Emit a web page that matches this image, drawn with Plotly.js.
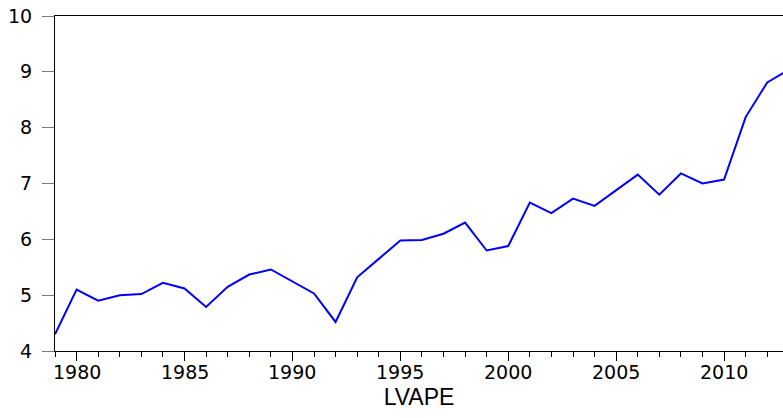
<!DOCTYPE html>
<html>
<head>
<meta charset="utf-8">
<script src="https://cdn.plot.ly/plotly-3.0.1.min.js"></script>
<style>
  html, body { margin: 0; padding: 0; background: #fff; }
  #chart { width: 783px; height: 418px; }
</style>
</head>
<body>
<div id="chart"></div>
<script>
// Annual series LVAPE, 1979-2013
const years = [1979, 1980, 1981, 1982, 1983, 1984, 1985, 1986, 1987, 1988,
               1989, 1990, 1991, 1992, 1993, 1994, 1995, 1996, 1997, 1998,
               1999, 2000, 2001, 2002, 2003, 2004, 2005, 2006, 2007, 2008,
               2009, 2010, 2011, 2012, 2013];
const lvape = [4.30, 5.10, 4.90, 5.00, 5.02, 5.22, 5.12, 4.79, 5.15, 5.37,
               5.46, 5.25, 5.03, 4.52, 5.32, 5.65, 5.98, 5.99, 6.10, 6.30,
               5.80, 5.88, 6.66, 6.47, 6.73, 6.60, 6.88, 7.16, 6.80, 7.18,
               7.00, 7.07, 8.19, 8.81, 9.04];
const seriesName = 'LVAPE';
const yTicks = [4, 5, 6, 7, 8, 9, 10];
const xTicks = [1980, 1985, 1990, 1995, 2000, 2005, 2010];

const tickFont = { family: 'DejaVu Sans, Arial, sans-serif', size: 19, color: '#000' };

const trace = {
  x: years,
  y: lvape,
  type: 'scatter',
  mode: 'lines',
  line: { color: '#0000ff', width: 2 },
  hoverinfo: 'x+y'
};

// Year labels placed on the x scale, set a little closer to the axis than the default spacing
const yearLabels = xTicks.map(function (yr) {
  return {
    x: yr, xref: 'x',
    y: 0, yref: 'paper',
    yanchor: 'top', xanchor: 'center',
    yshift: -8,
    showarrow: false,
    text: String(yr),
    font: tickFont
  };
});

const layout = {
  width: 783,
  height: 418,
  margin: { l: 55, r: 0, t: 16, b: 67 },
  paper_bgcolor: '#ffffff',
  plot_bgcolor: '#ffffff',
  showlegend: false,
  annotations: yearLabels,
  xaxis: {
    range: [1979, 2012.73],
    tickmode: 'array',
    tickvals: xTicks,
    showticklabels: false,
    ticks: 'outside',
    ticklen: 9,
    tickwidth: 1,
    tickcolor: '#000',
    minor: { dtick: 1, tick0: 1979, ticks: 'outside', ticklen: 5, tickwidth: 1, tickcolor: '#000', showgrid: false },
    showline: true,
    linecolor: '#000',
    linewidth: 1,
    mirror: true,
    showgrid: false,
    zeroline: false,
    title: {
      text: seriesName,
      font: { family: 'Liberation Sans, Arial, sans-serif', size: 23, color: '#000' },
      standoff: 28
    }
  },
  yaxis: {
    range: [4, 10],
    tickmode: 'array',
    tickvals: yTicks,
    ticktext: yTicks.map(String),
    ticks: 'outside',
    ticklen: 12,
    tickwidth: 1,
    tickcolor: '#777',
    ticklabelstandoff: 6,
    showline: true,
    linecolor: '#000',
    linewidth: 1,
    mirror: false,
    showgrid: false,
    zeroline: false,
    tickfont: tickFont
  }
};

Plotly.newPlot('chart', [trace], layout, { staticPlot: true, displayModeBar: false });
</script>
</body>
</html>
